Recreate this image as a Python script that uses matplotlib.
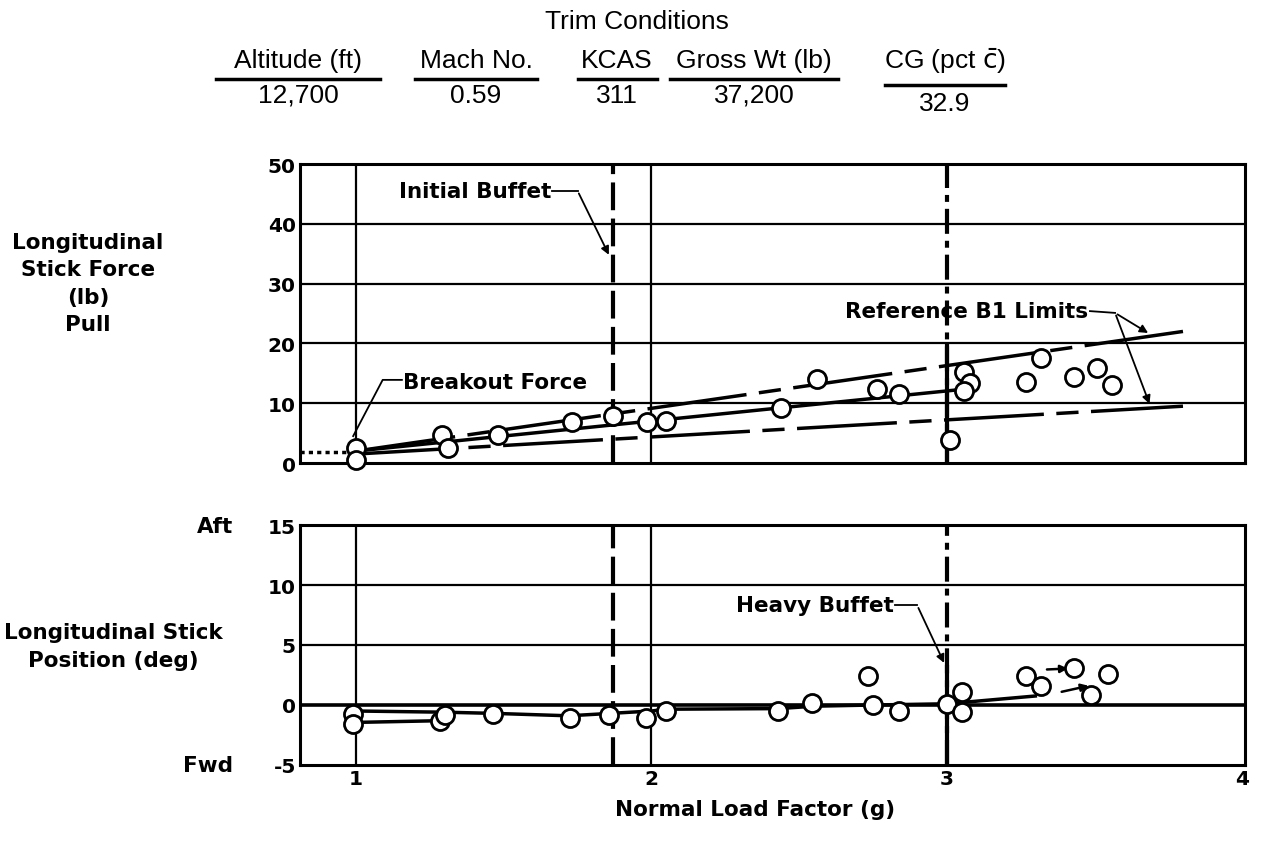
import matplotlib
matplotlib.use('Agg')
import matplotlib.pyplot as plt
from matplotlib.lines import Line2D

plt.rcParams['font.family'] = ['DejaVu Sans']
plt.rcParams['lines.scale_dashes'] = False
plt.rcParams['axes.unicode_minus'] = False
plt.rcParams['mathtext.fontset'] = 'custom'
plt.rcParams['mathtext.rm'] = 'Liberation Sans Narrow'

# --- trim conditions header
trim_cols = ["Altitude (ft)", "Mach No.", "KCAS", "Gross Wt (lb)", r"CG (pct $\bar{\mathrm{c}}$)"]
trim_vals = ["12,700", "0.59", "311", "37,200", "32.9"]

# --- stick force (lb) vs normal load factor (g)
force_nz = [1.0, 1.0, 1.29, 1.31, 1.48, 1.73, 1.87, 1.985, 2.05, 2.44, 2.56, 2.765,
            2.84, 3.01, 3.06, 3.08, 3.06, 3.27, 3.32, 3.43, 3.51, 3.56]
force_lb = [2.5, 0.5, 4.7, 2.5, 4.7, 6.8, 7.8, 6.9, 7.1, 9.2, 14.1, 12.4,
            11.6, 3.9, 15.3, 13.4, 12.0, 13.6, 17.6, 14.4, 15.9, 13.1]
force_fair_nz = [1.0, 3.05]
force_fair_lb = [2.0, 12.3]
b1_upper_nz = [1.0, 3.8]
b1_upper_lb = [2.0, 22.0]
b1_lower_nz = [1.0, 3.8]
b1_lower_lb = [1.5, 9.5]
breakout_nz = [0.81, 1.0]
breakout_lb = [1.9, 1.9]

# --- stick position (deg) vs normal load factor (g)
pos_nz = [0.99, 0.99, 1.285, 1.30, 1.465, 1.725, 1.855, 1.98, 2.05, 2.43, 2.545,
          2.735, 2.75, 2.84, 3.0, 3.05, 3.05, 3.27, 3.32, 3.43, 3.545, 3.49]
pos_deg = [-0.75, -1.6, -1.3, -0.8, -0.75, -1.1, -0.8, -1.1, -0.5, -0.5, 0.2,
           2.4, 0.0, -0.5, 0.1, 1.05, -0.6, 2.45, 1.6, 3.1, 2.6, 0.8]
pos_fair_nz = [1.0, 1.3, 1.47, 1.72, 1.86, 2.0, 2.05, 2.43, 2.55, 2.75, 3.0, 3.3]
pos_fair_deg = [-0.5, -0.6, -0.7, -0.9, -0.7, -0.5, -0.35, -0.3, -0.1, 0.0, 0.1, 0.75]
pos_low_nz = [1.0, 1.3]
pos_low_deg = [-1.45, -1.3]
# short arrowed fairings past heavy buffet: (start, end)
pos_arrows = [((3.33, 2.95), (3.42, 3.05)), ((3.38, 1.05), (3.49, 1.65))]

initial_buffet = 1.87
heavy_buffet = 3.0

W, H = 1261, 854
def fx(p): return p / W
def fy(p): return 1 - p / H

fig = plt.figure(figsize=(W / 100, H / 100), dpi=100)
ax1 = fig.add_axes([fx(300), fy(464), fx(945), 299 / H])
ax2 = fig.add_axes([fx(300), fy(766), fx(945), 240 / H])

tfont = dict(fontweight='bold', fontsize=15.5)
for ax in (ax1, ax2):
    ax.set_xlim(0.81, 4.01)
    ax.set_xticks([1, 2, 3, 4])
    for s in ax.spines.values():
        s.set_linewidth(2.2)
    ax.tick_params(length=0, labelsize=14.5, pad=3)
    for xv in [1, 2]:
        ax.axvline(xv, color='k', lw=1.6, zorder=1)
    ax.axvline(initial_buffet, color='k', lw=3, ls=(0, (20, 6)), zorder=2)
    ax.axvline(heavy_buffet, color='k', lw=3, ls=(0, (18, 5, 5, 5)), zorder=2)

# top panel
ax1.set_ylim(0, 50)
ax1.set_yticks(range(0, 51, 10))
ax1.set_xticklabels([])
for lab in ax1.get_yticklabels():
    lab.set_fontweight('bold')
for yv in [10, 20, 30, 40]:
    ax1.axhline(yv, color='k', lw=1.6, zorder=1)
ax1.axvline(heavy_buffet, ymin=0, ymax=0.39, color='k', lw=3, zorder=2)
ax1.plot(breakout_nz, breakout_lb, color='k', lw=2.5, ls=(0, (3, 3)), clip_on=False)
ax1.plot(force_fair_nz, force_fair_lb, color='k', lw=2.5, zorder=3)
ax1.plot(b1_upper_nz, b1_upper_lb, color='k', lw=2.5, ls=(0, (72, 9, 16, 9)), zorder=3)
ax1.plot(b1_lower_nz, b1_lower_lb, color='k', lw=2.5, ls=(0, (72, 9, 16, 9)), zorder=3)
ax1.plot(force_nz, force_lb, 'o', ms=13, mfc='white', mec='k', mew=2, clip_on=False, zorder=5)

# annotations top
ax1.text(1.16, 13.6, "Breakout Force", va='center', ha='left', **tfont)
ax1.plot([1.155, 1.09, 0.99], [13.9, 13.9, 4.5], color='k', lw=1.3)
ax1.text(1.66, 45.5, "Initial Buffet", va='center', ha='right', **tfont)
ax1.annotate("", xy=(1.86, 34.4), xytext=(1.75, 45.5),
             arrowprops=dict(arrowstyle='-|>', color='k', lw=1.3, mutation_scale=12))
ax1.plot([1.665, 1.75], [45.5, 45.5], color='k', lw=1.3)
ax1.text(3.48, 25.4, "Reference B1 Limits", va='center', ha='right', **tfont)
ax1.plot([3.485, 3.57], [25.4, 25.1], color='k', lw=1.3)
for tip in [(3.69, 21.5), (3.69, 9.45)]:
    ax1.annotate("", xy=tip, xytext=(3.57, 25.1),
                 arrowprops=dict(arrowstyle='-|>', color='k', lw=1.3, mutation_scale=12))

# bottom panel
ax2.set_ylim(-5, 15)
ax2.set_yticks(range(-5, 16, 5))
for lab in ax2.get_yticklabels() + ax2.get_xticklabels():
    lab.set_fontweight('bold')
for yv in [5, 10]:
    ax2.axhline(yv, color='k', lw=1.6, zorder=1)
ax2.axhline(0, color='k', lw=2.6, zorder=1)
ax2.axvline(heavy_buffet, ymin=0, ymax=0.41, color='k', lw=3, zorder=2)
ax2.plot(pos_fair_nz, pos_fair_deg, color='k', lw=2.5, zorder=3)
ax2.plot(pos_low_nz, pos_low_deg, color='k', lw=2.5, zorder=3)
for start, end in pos_arrows:
    ax2.annotate("", xy=end, xytext=start,
                 arrowprops=dict(arrowstyle='-|>', color='k', lw=1.8, mutation_scale=11))
ax2.plot(pos_nz, pos_deg, 'o', ms=13, mfc='white', mec='k', mew=2, clip_on=False, zorder=5)
ax2.text(2.82, 8.3, "Heavy Buffet", va='center', ha='right', **tfont)
ax2.plot([2.825, 2.90], [8.3, 8.3], color='k', lw=1.3)
ax2.annotate("", xy=(2.995, 3.3), xytext=(2.90, 8.3),
             arrowprops=dict(arrowstyle='-|>', color='k', lw=1.3, mutation_scale=12))

# axis labels
fig.text(fx(88), fy(284), "Longitudinal\nStick Force\n(lb)\nPull", ha='center', va='center',
         linespacing=1.45, **tfont)
fig.text(fx(113), fy(647), "Longitudinal Stick\nPosition (deg)", ha='center', va='center',
         linespacing=1.45, **tfont)
fig.text(fx(233), fy(527), "Aft", ha='right', va='center', **tfont)
fig.text(fx(233), fy(766), "Fwd", ha='right', va='center', **tfont)
fig.text(fx(755), fy(810), "Normal Load Factor (g)", ha='center', va='center', **tfont)

# header
hfont = dict(family=['Liberation Sans Narrow', 'Liberation Sans', 'DejaVu Sans'], fontsize=19)
fig.text(fx(637), fy(22), "Trim Conditions", ha='center', va='center', **hfont)
col_x = [298, 476, 617, 754, 945]
col_w = [164, 122, 79, 168, 120]
val_y = [96, 96, 96, 96, 104]
line_y = [80, 80, 80, 80, 86]
for name, val, cx, cw, vy, ly in zip(trim_cols, trim_vals, col_x, col_w, val_y, line_y):
    fig.text(fx(cx), fy(61), name, ha='center', va='center', **hfont)
    fig.text(fx(cx), fy(vy), val, ha='center', va='center', **hfont)
    fig.add_artist(Line2D([fx(cx - cw / 2), fx(cx + cw / 2)], [fy(ly), fy(ly)],
                          color='k', lw=2.5, transform=fig.transFigure))

fig.savefig('out.png', dpi=100)
